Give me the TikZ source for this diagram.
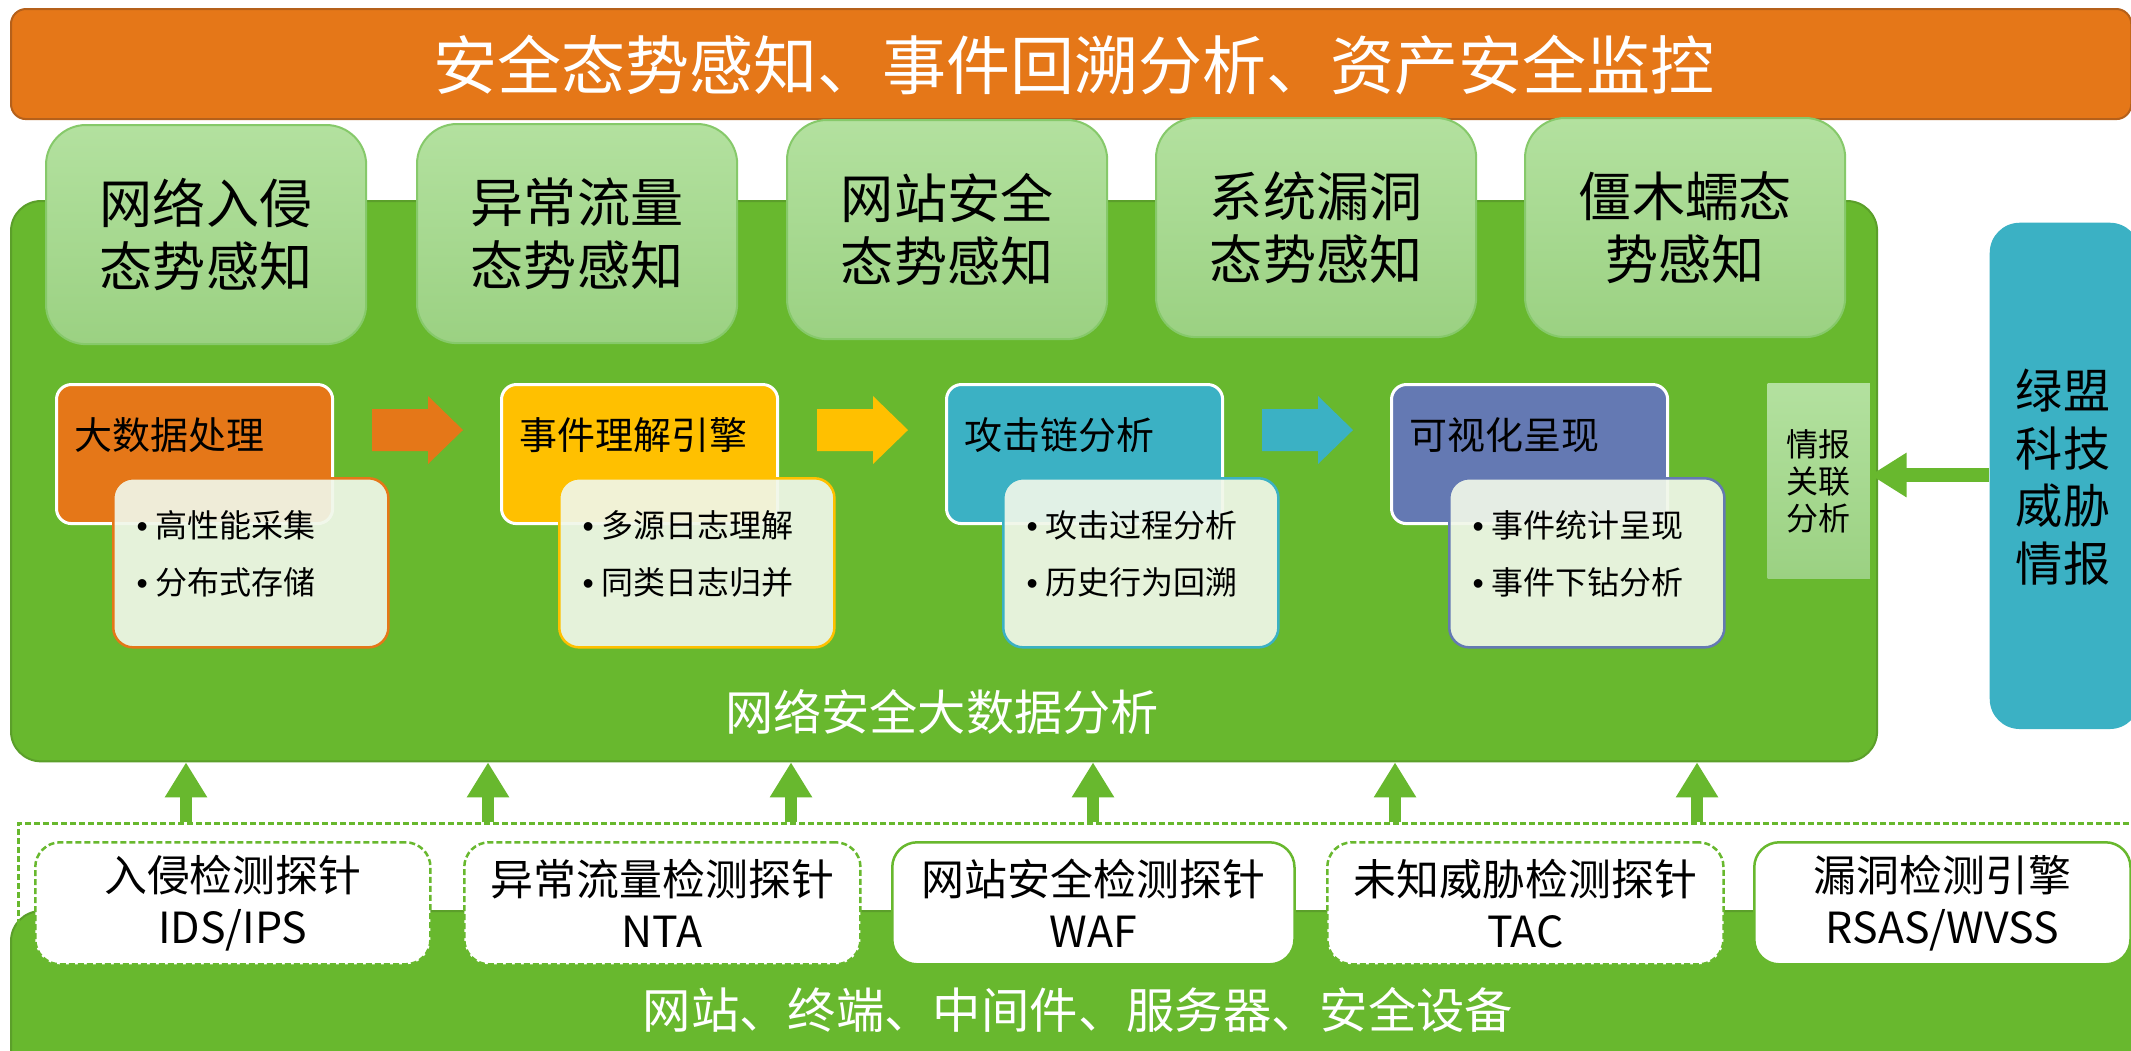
\documentclass[tikz,border=0pt]{standalone}
\usepackage{fontspec}
\setmainfont{Noto Sans CJK SC}
\newfontfamily\bulfont{Liberation Sans}
\newcommand{\bulitem}{{\bulfont •}\hspace{0.25em}}
\usetikzlibrary{arrows.meta}
\definecolor{org}{HTML}{E57718}
\definecolor{orgdark}{HTML}{B5601A}
\definecolor{yel}{HTML}{FFC000}
\definecolor{teal2}{HTML}{3BB1C4}
\definecolor{purp}{HTML}{6479B3}
\definecolor{grn}{HTML}{68B82E}
\definecolor{grndark}{HTML}{5B9F2A}
\definecolor{lgtop}{HTML}{B3E19F}
\definecolor{lgbot}{HTML}{9BD182}
\definecolor{lgborder}{HTML}{86C96A}
\definecolor{subfill}{HTML}{F0F7E9}
\tikzset{
  topbox/.style={rounded corners=0.4cm, draw=lgborder, line width=0.02cm, top color=lgtop, bottom color=lgbot,
    minimum width=3.2cm, minimum height=2.19cm, anchor=north west, inner sep=0pt, align=center,
    font=\fontsize{15.1pt}{17.9pt}\selectfont},
  hdrbox/.style={rounded corners=0.15cm, draw=white, line width=0.03cm, minimum width=2.76cm, minimum height=1.39cm,
    anchor=north west, inner sep=0pt},
  subbox/.style={rounded corners=0.2cm, fill=subfill, fill opacity=0.92, line width=0.025cm, minimum width=2.75cm,
    minimum height=1.69cm, anchor=north west, inner sep=0pt},
  hdrtext/.style={anchor=west, inner sep=0pt, font=\fontsize{10.8pt}{13pt}\selectfont},
  bultext/.style={anchor=west, inner sep=0pt, align=left, font=\fontsize{9.1pt}{16.2pt}\selectfont},
  probebox/.style={rounded corners=0.25cm, draw=grn, fill=white, line width=0.025cm, minimum height=1.22cm,
    anchor=north west, inner sep=0pt, align=center, font=\fontsize{12.2pt}{14.8pt}\selectfont},
  dashedline/.style={dash pattern=on 0.06cm off 0.03cm},
  uparrow/.style={draw=grn, line width=0.12cm, -{Triangle[width=0.4cm,length=0.35cm]}},
}
\begin{document}
\begin{tikzpicture}[x=0.01cm,y=-0.01cm]
\useasboundingbox (0,0) rectangle (2131,1050);
\clip (0,0) rectangle (2131,1050);
\fill[white] (0,0) rectangle (2131,1050);

% title bar
\node[rounded corners=0.15cm, fill=org, draw=orgdark, line width=0.02cm, anchor=north west,
  minimum width=21.19cm, minimum height=1.1cm, inner sep=0pt] (title) at (10,8) {};
\node[text=white, font=\fontsize{18.2pt}{20pt}\selectfont] (titletext) at (1074,65) {安全态势感知、事件回溯分析、资产安全监控};

% main green box
\node[rounded corners=0.3cm, fill=grn, draw=grndark, line width=0.02cm, anchor=north west,
  minimum width=18.65cm, minimum height=5.6cm, inner sep=0pt] (main) at (10,200) {};
\node[text=white, font=\fontsize{13.7pt}{16pt}\selectfont] (maintext) at (942,712) {网络安全大数据分析};

% top boxes
\node[topbox] (s1) at (45,124) {网络入侵\\态势感知};
\node[topbox] (s2) at (416,123) {异常流量\\态势感知};
\node[topbox] (s3) at (786,119) {网站安全\\态势感知};
\node[topbox] (s4) at (1155,117) {系统漏洞\\态势感知};
\node[topbox] (s5) at (1524,117) {僵木蠕态\\势感知};

% process header boxes
\node[hdrbox, fill=org] (hA) at (55,383) {};
\node[hdrbox, fill=yel] (hB) at (500,383) {};
\node[hdrbox, fill=teal2] (hC) at (945,383) {};
\node[hdrbox, fill=purp] (hD) at (1390,383) {};
\node[hdrtext] (tA) at (74,435) {大数据处理};
\node[hdrtext] (tB) at (519,435) {事件理解引擎};
\node[hdrtext] (tC) at (964,435) {攻击链分析};
\node[hdrtext] (tD) at (1409,435) {可视化呈现};

% sub boxes
\node[subbox, draw=org] (bA) at (112,477) {};
\node[subbox, draw=yel] (bB) at (558,477) {};
\node[subbox, draw=teal2] (bC) at (1002,477) {};
\node[subbox, draw=purp] (bD) at (1448,477) {};
\node[bultext] (lA) at (136,554) {\bulitem 高性能采集\\\bulitem 分布式存储};
\node[bultext] (lB) at (582,554) {\bulitem 多源日志理解\\\bulitem 同类日志归并};
\node[bultext] (lC) at (1026,554) {\bulitem 攻击过程分析\\\bulitem 历史行为回溯};
\node[bultext] (lD) at (1472,554) {\bulitem 事件统计呈现\\\bulitem 事件下钻分析};

% block arrows between process stages
\fill[org, shift={(372,430)}] (0,-21) -- (56,-21) -- (56,-34) -- (91,0) -- (56,34) -- (56,21) -- (0,21) -- cycle;
\fill[yel, shift={(817,430)}] (0,-21) -- (56,-21) -- (56,-34) -- (91,0) -- (56,34) -- (56,21) -- (0,21) -- cycle;
\fill[teal2, shift={(1262,430)}] (0,-21) -- (56,-21) -- (56,-34) -- (91,0) -- (56,34) -- (56,21) -- (0,21) -- cycle;

% intel correlation box
\node[top color=lgtop, bottom color=lgbot, anchor=north west, minimum width=1.02cm, minimum height=1.95cm,
  inner sep=0pt, align=center, font=\fontsize{9.1pt}{10.6pt}\selectfont] (intel) at (1767,383) {情报\\关联\\分析};

% right teal box
\node[rounded corners=0.3cm, fill=teal2, anchor=north west, minimum width=1.5cm, minimum height=5.06cm,
  inner sep=0pt] (ti) at (1989,222) {};
\node[align=center, font=\fontsize{13.4pt}{16.4pt}\selectfont, inner sep=0pt] (titext) at (2063,477) {绿盟\\科技\\威胁\\情报};
\coordinate (ty) at (0,475);
\draw[draw=grn, line width=0.14cm, -{Triangle[width=0.42cm,length=0.36cm]}] (ti.west |- ty) -- (intel.east |- ty);

% bottom green base
\node[rounded corners=0.3cm, fill=grn, draw=grndark, line width=0.02cm, anchor=north west,
  minimum width=21.5cm, minimum height=1.8cm, inner sep=0pt] (base) at (10,910) {};
\node[text=white, font=\fontsize{13.75pt}{16pt}\selectfont] (basetext) at (1078,1010) {网站、终端、中间件、服务器、安全设备};

% dashed probe container
\node[draw=grn, line width=0.03cm, dashedline, anchor=north west, minimum width=21.3cm, minimum height=1.53cm,
  inner sep=0pt] (probes) at (17,822) {};

% probe boxes
\node[probebox, dashedline, minimum width=3.95cm] (p1) at (34,841) {入侵检测探针\\IDS/IPS};
\node[probebox, dashedline, minimum width=3.96cm] (p2) at (463,841) {异常流量检测探针\\NTA};
\node[probebox, minimum width=4.02cm] (p3) at (891,841) {网站安全检测探针\\WAF};
\node[probebox, dashedline, minimum width=3.96cm] (p4) at (1326,841) {未知威胁检测探针\\TAC};
\node[probebox, minimum width=3.76cm] (p5) at (1753,841) {漏洞检测引擎\\RSAS/WVSS};

% upward arrows
\foreach \i/\xx in {1/186,2/488,3/791,4/1093,5/1395,6/1697}{
  \coordinate (u\i) at (\xx,822);
  \draw[uparrow] (u\i) -- (main.south -| u\i);
}
\end{tikzpicture}
\end{document}
